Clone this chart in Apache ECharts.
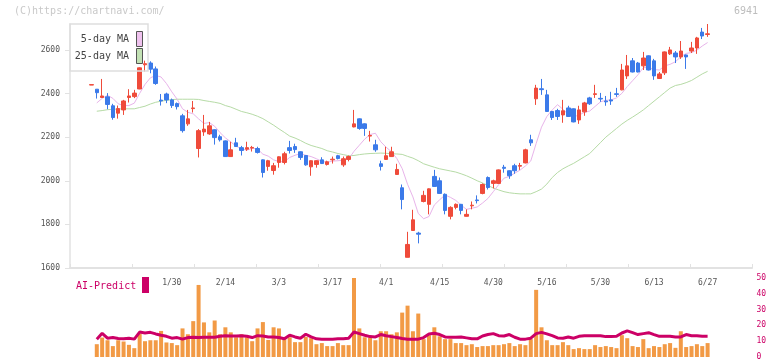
<!DOCTYPE html>
<html><head><meta charset="utf-8">
<script src="https://cdn.jsdelivr.net/npm/echarts/dist/echarts.min.js"></script>
<style>html,body{margin:0;padding:0;background:#fff}#c{width:772px;height:361px}</style>
</head><body><div id="c"></div>
<script>
const dates = ['1/8','1/9','1/10','1/14','1/15','1/16','1/17','1/20','1/21','1/22','1/23','1/24','1/27','1/28','1/29','1/30','1/31',
'2/3','2/4','2/5','2/6','2/7','2/10','2/12','2/13','2/14','2/17','2/18','2/19','2/20','2/21','2/25','2/26','2/27','2/28',
'3/3','3/4','3/5','3/6','3/7','3/10','3/11','3/12','3/13','3/14','3/17','3/18','3/19','3/21','3/24','3/25','3/26','3/27','3/28','3/31',
'4/1','4/2','4/3','4/4','4/7','4/8','4/9','4/10','4/11','4/14','4/15','4/16','4/17','4/18','4/21','4/22','4/23','4/24','4/25','4/28','4/30',
'5/1','5/2','5/7','5/8','5/9','5/12','5/13','5/14','5/15','5/16','5/19','5/20','5/21','5/22','5/23','5/26','5/27','5/28','5/29','5/30',
'6/2','6/3','6/4','6/5','6/6','6/9','6/10','6/11','6/12','6/13','6/16','6/17','6/18','6/19','6/20','6/23','6/24','6/25','6/26','6/27'];
const labelDates = ['1/30','2/14','3/3','3/17','4/1','4/15','4/30','5/16','5/30','6/13','6/27'];
const opens = [2439,2420,2382,2385,2344,2310,2325,2382,2386,2421,2532,2540,2513,2370,2398,2371,2354,2298,2261,2331,2148,2224,2215,2234,2202,2183,2111,2174,2152,2145,2150,2148,2096,2066,2047,2084,2084,2152,2157,2133,2116,2064,2075,2096,2075,2096,2115,2073,2098,2247,2284,2261,2205,2165,2078,2098,2111,2029,1968,1649,1772,1760,1905,1892,2020,2000,1938,1837,1878,1892,1837,1885,1912,1942,2015,1988,1988,2062,2046,2069,2067,2082,2188,2376,2422,2394,2318,2322,2302,2334,2330,2279,2316,2380,2396,2378,2366,2371,2399,2417,2481,2550,2540,2527,2573,2550,2469,2495,2582,2586,2568,2577,2595,2609,2682,2671];
const closes = [2441,2404,2389,2350,2290,2331,2366,2389,2402,2518,2537,2512,2446,2366,2371,2345,2340,2230,2284,2334,2230,2237,2252,2198,2188,2111,2142,2157,2139,2152,2153,2130,2038,2092,2069,2110,2124,2139,2143,2107,2073,2092,2092,2079,2087,2099,2102,2101,2111,2261,2240,2240,2208,2142,2066,2115,2133,2052,1914,1708,1821,1755,1933,1963,1974,1942,1864,1878,1892,1864,1846,1888,1909,1983,1969,2000,2050,2057,2023,2046,2070,2142,2174,2425,2418,2318,2290,2295,2321,2295,2270,2325,2357,2353,2399,2375,2362,2366,2396,2508,2527,2499,2499,2563,2508,2481,2490,2591,2600,2568,2595,2568,2609,2655,2664,2674];
const lows = [2439,2377,2380,2328,2280,2285,2302,2359,2379,2420,2501,2493,2440,2345,2356,2334,2327,2221,2252,2313,2107,2206,2211,2166,2180,2110,2110,2155,2116,2137,2134,2125,2015,2046,2028,2060,2075,2125,2128,2096,2069,2023,2060,2077,2070,2079,2098,2064,2089,2245,2234,2206,2180,2133,2047,2096,2110,2028,1869,1649,1770,1713,1901,1846,1972,1940,1846,1823,1869,1846,1836,1869,1896,1938,1960,1965,1986,2037,2009,2032,2050,2080,2160,2348,2394,2316,2279,2279,2266,2293,2268,2261,2298,2348,2380,2362,2344,2348,2385,2415,2467,2497,2497,2508,2506,2463,2467,2485,2577,2540,2559,2513,2586,2582,2650,2660];
const highs = [2441,2420,2467,2402,2353,2345,2371,2420,2417,2520,2551,2548,2524,2398,2404,2377,2359,2307,2325,2366,2237,2302,2270,2236,2211,2185,2179,2197,2160,2179,2160,2156,2098,2096,2082,2112,2133,2183,2170,2135,2118,2094,2094,2108,2092,2111,2119,2111,2116,2325,2286,2263,2229,2188,2092,2156,2156,2078,1983,1766,1867,1766,1954,1965,2050,2015,1942,1883,1896,1894,1869,1905,1933,1988,2020,2005,2052,2073,2048,2078,2082,2147,2211,2440,2467,2417,2320,2330,2371,2344,2332,2344,2362,2385,2440,2403,2389,2408,2426,2536,2577,2563,2545,2591,2575,2559,2499,2593,2614,2595,2641,2579,2637,2660,2701,2719];
const ma5 = [null,2357,2378,2392,2378,2353,2345,2345,2356,2401,2442,2472,2483,2476,2446,2408,2374,2330,2314,2307,2284,2263,2267,2250,2221,2197,2178,2159,2147,2140,2149,2146,2122,2113,2096,2088,2087,2107,2117,2125,2117,2111,2101,2089,2085,2090,2092,2094,2100,2135,2163,2191,2212,2218,2179,2154,2133,2102,2056,1984,1926,1850,1826,1836,1889,1913,1935,1924,1910,1888,1869,1874,1880,1898,1919,1950,1982,2012,2020,2035,2049,2068,2091,2171,2246,2295,2325,2349,2328,2304,2294,2301,2314,2320,2341,2362,2369,2371,2380,2401,2432,2459,2486,2519,2519,2510,2508,2527,2534,2546,2569,2584,2588,2599,2618,2634];
const ma25 = [null,2319,2322,2326,2328,2329,2330,2330,2330,2336,2342,2352,2360,2365,2369,2372,2374,2374,2374,2374,2373,2368,2364,2360,2355,2345,2338,2328,2318,2312,2305,2296,2285,2270,2255,2238,2222,2205,2196,2185,2172,2162,2155,2148,2138,2132,2125,2120,2115,2116,2120,2123,2125,2126,2127,2126,2124,2123,2121,2112,2104,2092,2078,2070,2062,2055,2050,2045,2040,2032,2023,2012,2000,1990,1978,1967,1958,1950,1945,1942,1940,1940,1940,1950,1962,1985,2015,2038,2055,2068,2080,2095,2110,2125,2150,2175,2200,2220,2240,2260,2277,2292,2308,2325,2345,2365,2385,2405,2425,2437,2442,2450,2460,2475,2490,2502];
const volume = [null,8.1,12.3,10.6,6.9,10.6,9.8,7.7,5.6,14.8,10.0,10.6,10.6,16.5,9.2,8.8,7.5,18.1,14.4,22.7,45.6,21.9,15.6,23.1,14.4,18.8,15.6,12.5,14.4,12.5,10.0,18.1,22.1,10.8,18.8,18.1,11.3,12.5,9.4,9.4,12.7,11.9,8.1,8.8,6.9,6.9,8.8,7.5,7.5,50.0,18.1,12.5,12.3,10.6,16.3,16.3,14.4,15.6,28.1,32.5,16.3,27.5,11.3,13.8,18.8,13.1,11.3,11.3,8.8,8.8,7.5,8.1,6.3,6.9,6.9,7.5,7.5,8.1,8.8,6.9,8.1,7.5,11.3,42.5,18.8,10.6,7.5,7.5,9.4,7.5,5.0,5.6,5.0,5.0,7.5,6.3,6.9,6.3,5.6,13.8,11.9,6.9,6.3,11.3,5.6,6.9,6.3,8.1,8.8,5.8,16.3,6.3,6.9,8.1,6.9,8.8];
const aiPredict = [null,11.3,15.0,11.9,12.3,11.7,11.5,11.9,11.3,15.8,15.2,15.6,14.6,13.8,13.1,11.9,12.3,11.3,12.3,12.5,12.3,12.5,12.5,12.5,13.1,13.5,13.3,13.3,13.5,13.1,12.3,13.5,13.3,12.7,12.7,12.3,11.5,13.8,12.7,11.9,14.4,12.7,11.5,11.3,11.3,11.3,11.5,11.5,11.9,15.8,14.8,13.8,12.9,12.7,14.2,13.5,12.9,12.3,11.7,11.3,11.3,11.3,12.3,14.6,15.0,14.2,12.7,12.5,12.5,12.7,12.1,11.5,11.5,13.3,14.2,14.8,13.5,13.3,14.2,12.5,11.3,11.3,11.9,14.8,15.6,14.6,13.5,12.1,11.9,12.7,11.9,13.1,13.5,13.5,13.5,13.5,12.9,12.9,13.1,15.2,16.5,15.4,14.2,14.8,15.4,14.2,13.1,13.1,13.1,12.7,12.7,14.2,13.5,13.5,13.1,13.1];
const priceTicks = [1600,1800,2000,2200,2400,2600];
const aiTicks = [0,10,20,30,40,50];

const PAD = 4, SLOTS = 128;
const cats = [];
for (let k = 0; k < SLOTS; k++) { const i = k - PAD; cats.push(i >= 0 && i < dates.length ? dates[i] : '_' + k); }
const labelIdx = new Set(labelDates.map(d => dates.indexOf(d) + PAD));
const candleData = dates.map((d, i) => [i + PAD, opens[i], closes[i], lows[i], highs[i]]);
const pts = arr => arr.map((v, i) => [i + PAD, v]).filter(p => p[1] !== null);

const MONO = '"DejaVu Sans Mono", "Liberation Mono", monospace';
const AXC = '#e2e2e2';
const RED = '#ef4b3a', BLUE = '#3b7ae9', CRIM = '#cc0066';
const plotW = 127 * 5.358;

const chart = echarts.init(document.getElementById('c'), null, {renderer: 'canvas'});
chart.setOption({
  animation: false,
  backgroundColor: '#fff',
  grid: [
    {left: 70, top: 24, width: 682, height: 244},
    {left: 70, top: 24, width: plotW, height: 244},
    {left: 70, top: 278, width: plotW, height: 80}
  ],
  xAxis: [
    {type: 'value', gridIndex: 0, min: 0, max: 11, interval: 1,
     axisLine: {show: true, lineStyle: {color: AXC, width: 2}},
     axisTick: {show: true, inside: true, length: 4, lineStyle: {color: AXC, width: 1}},
     axisLabel: {show: false}, splitLine: {show: false}},
    {type: 'category', gridIndex: 1, data: cats, boundaryGap: false,
     axisLine: {show: false}, axisTick: {show: false}, splitLine: {show: false},
     axisLabel: {interval: (idx) => labelIdx.has(idx), margin: 11, fontSize: 8, fontFamily: MONO, color: '#555'}},
    {type: 'category', gridIndex: 2, data: cats, boundaryGap: false,
     axisLine: {show: false}, axisTick: {show: false}, axisLabel: {show: false}, splitLine: {show: false}}
  ],
  yAxis: [
    {type: 'value', gridIndex: 0, min: 1600, max: 2719, show: false},
    {type: 'value', gridIndex: 1, min: 1600, max: 2719, scale: true,
     axisLine: {show: true, lineStyle: {color: AXC, width: 1.5}},
     axisTick: {show: true, length: 5, customValues: priceTicks, lineStyle: {color: AXC}},
     axisLabel: {customValues: priceTicks, formatter: v => String(v), margin: 10, fontSize: 8, fontFamily: MONO, color: '#555'},
     splitLine: {show: false}},
    {type: 'value', gridIndex: 2, min: 0, max: 50, interval: 10, position: 'right',
     axisLine: {show: false}, axisTick: {show: false}, splitLine: {show: false},
     axisLabel: {customValues: aiTicks, formatter: v => String(v), margin: 6, fontSize: 8, fontFamily: MONO, color: CRIM}},
    {type: 'value', gridIndex: 2, min: 0, max: 50, show: false}
  ],
  series: [
    {type: 'bar', name: 'Volume', xAxisIndex: 2, yAxisIndex: 3, data: pts(volume), barWidth: 4,
     itemStyle: {color: '#f29a45'}, z: 1},
    {type: 'line', name: 'AI-Predict', xAxisIndex: 2, yAxisIndex: 2, data: pts(aiPredict), symbol: 'none',
     lineStyle: {color: CRIM, width: 3}, z: 3},
    {type: 'line', name: '25-day MA', xAxisIndex: 1, yAxisIndex: 1, data: pts(ma25), symbol: 'none',
     lineStyle: {color: '#b6dba6', width: 1}, z: 2},
    {type: 'line', name: '5-day MA', xAxisIndex: 1, yAxisIndex: 1, data: pts(ma5), symbol: 'none',
     lineStyle: {color: '#e8b4ea', width: 1}, z: 2},
    {type: 'candlestick', name: 'price', xAxisIndex: 1, yAxisIndex: 1, data: candleData,
     encode: {x: 0, y: [1, 2, 3, 4]}, barWidth: 4,
     itemStyle: {color: RED, color0: BLUE, borderColor: RED, borderColor0: BLUE, borderWidth: 1}, z: 4}
  ],
  graphic: [
    {type: 'text', left: 14, top: 6, style: {text: '(C)https://chartnavi.com/', font: '10px ' + MONO, fill: '#c9c9c9'}},
    {type: 'text', left: 734, top: 6, style: {text: '6941', font: '10px ' + MONO, fill: '#bdbdbd'}},
    {type: 'rect', shape: {x: 70, y: 24, width: 78, height: 47}, style: {fill: 'none', stroke: '#dedede', lineWidth: 1.5}, z: 10},
    {type: 'text', z: 11, style: {text: '5-day MA', x: 129, y: 39, align: 'right', verticalAlign: 'middle', textAlign: 'right', textVerticalAlign: 'middle', font: '10px ' + MONO, fill: '#444'}},
    {type: 'text', z: 11, style: {text: '25-day MA', x: 129, y: 56, align: 'right', verticalAlign: 'middle', textAlign: 'right', textVerticalAlign: 'middle', font: '10px ' + MONO, fill: '#444'}},
    {type: 'rect', z: 11, shape: {x: 136.5, y: 31.5, width: 6, height: 15}, style: {fill: '#efc2ee', stroke: '#555', lineWidth: 1}},
    {type: 'rect', z: 11, shape: {x: 136.5, y: 48.5, width: 6, height: 15}, style: {fill: '#c3e2b5', stroke: '#555', lineWidth: 1}},
    {type: 'text', z: 11, style: {text: 'AI-Predict', x: 76, y: 286, verticalAlign: 'middle', textVerticalAlign: 'middle', font: '10px ' + MONO, fill: CRIM}},
    {type: 'rect', z: 11, shape: {x: 142, y: 277, width: 7, height: 16}, style: {fill: CRIM}}
  ]
});
</script></body></html>
